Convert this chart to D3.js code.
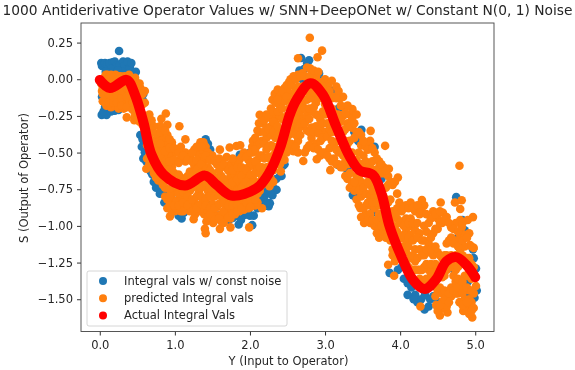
<!DOCTYPE html>
<html lang="en">
<head>
<meta charset="UTF-8">
<title>Antiderivative Operator Values</title>
<script src="https://d3js.org/d3.v7.min.js"></script>
<style>
  html, body { margin: 0; background: #fff; }
  svg { display: block; filter: blur(0.45px); }
  text { font-family: "DejaVu Sans", sans-serif; fill: #262626; }
</style>
</head>
<body>
<svg width="575" height="370"></svg>
<script>
const titleText = "1000 Antiderivative Operator Values w/ SNN+DeepONet w/ Constant N(0, 1) Noise";
const xLabel = "Y (Input to Operator)";
const yLabel = "S (Output of Operator)";
const xTicks = [0, 1, 2, 3, 4, 5];
const yTicks = [0.25, 0, -0.25, -0.5, -0.75, -1, -1.25, -1.5];
const legendLabels = ["Integral vals w/ const noise", "predicted Integral vals", "Actual Integral Vals"];
const colors = ["#1f77b4", "#ff7f0e", "#ff0000"];

// noisy integral values (most are hidden under the orange)
const noisyPoints = [
  [.02,.11],[.03,.09],[.05,.1],[.07,.11],[.1,.1],[.13,.11],[.17,.115],[.2,.12],[.22,.09],[.257,.193],[.27,.1],[.31,.12],[.33,.09],[.37,.12],[.4,.08],[.42,.11],[.38,.06],[.43,.05],[.3,.05],
  [.15,.07],[.08,.05],[.24,.06],[.46,.02],[.48,.05],[.5,-.03],
  [.026,-.243],[.09,-.243],[.05,-.22],[.2,-.215],[.25,-.21],[.05,-.14],[.12,-.18],[.17,-.17],[.58,-.1],[.57,-.14],[.07,-.19],[.15,-.22],[.03,-.12],
  [.54,-.38],[.56,-.46],[.58,-.54],[.65,-.6],[.7,-.65],[.78,-.72],[.9,-.76],[.86,-.84],[.87,-.78],[.6,-.5],[.72,-.7],[.83,-.75],[.95,-.8],[.57,-.41],[.62,-.56],[.68,-.63],[.75,-.74],[.8,-.78],[.92,-.83],
  [1.09,-.95],[1.05,-.93],[1.33,-.87],[1.41,-.41],[1.47,-.48],[1.35,-.49],[1.64,-.97],[1.77,-.945],[1.85,-.99],[1.93,-.925],[2.03,-.995],[2.05,-.93],
  [1.2,-.88],[1.45,-.86],[1.58,-.93],[1.7,-.9],[1.72,-.96],[1.97,-.9],[1.12,-.91],[1.38,-.9],[1.53,-.96],[1.82,-.93],[1.88,-.96],[2.0,-.93],[2.1,-.88],[1.44,-.44],[1.5,-.55],
  [2.17,-.84],[2.25,-.865],[2.19,-.8],[2.13,-.81],[2.3,-.79],[2.31,-.74],[2.4,-.66],[1.865,-.515],[2,-.5],[2.265,-.845],[2.354,-.754],[2.42,-.66],[2.44,-.59],[2.37,-.55],[2.22,-.84],[2.27,-.78],[2.35,-.68],[2.46,-.58],[2.2,-.76],
  [2.787,.13],[2.68,.145],[2.66,.06],[2.72,.07],[2.83,.05],[2.92,.04],[2.94,0],[2.7,0],[3.03,-.07],[2.76,.11],[2.86,.04],[2.88,.02],[2.97,-.03],[3.1,-.08],[3.18,-.2],
  [3.484,-.345],[3.39,-.36],[3.66,-.46],[3.173,-.584],[3.7,-.62],[3.37,-.79],[3.35,-.74],[3.63,-.91],[3.6,-.44],[3.3,-.62],[3.44,-.42],[3.75,-.68],[3.4,-.8],[3.23,-.5],
  [3.86,-1.32],[3.97,-1.3],[3.95,-1.22],[4.1,-1.39],[4.1,-1.47],[4.2,-1.47],[4.23,-1.52],[4.325,-1.57],[4.44,-1.48],[4.44,-1.41],[4.5,-1.52],[4.17,-1.22],[4.05,-1.36],[4.15,-1.42],[4.28,-1.5],[4.38,-1.55],[4.02,-1.28],[4.12,-1.32],[4.18,-1.5],[4.33,-1.47],[4.4,-1.5],
  [4.747,-.804],[4.83,-.96],[4.86,-1.03],[4.77,-1.08],[4.79,-1.15],[4.97,-1.16],[5.01,-1.29],[4.99,-1.49],[4.93,-1.47],[5,-1.35],[4.98,-1.22],[5.02,-1.44],[4.72,-1.3],[4.9,-1.38]
];

// predicted integral values: outliers and band edges
const predictedPoints = [
  [.03,-.08],[.02,-.03],[.06,.01],[.08,.03],[.1,.03],[.13,.02],[.17,.02],[.21,.03],[.28,.02],[.33,.02],[.39,.03],[.45,-.04],[.36,-.26],[.48,-.02],[.54,-.06],[.46,-.28],[.61,-.29],
  [.62,-.36],[.68,-.55],[.62,-.61],[.8,-.32],[.82,-.27],[.88,-.234],[.9,-.31],[.87,-.4],[.8,-.68],[.96,-.43],
  [.935,-.935],[1,-.9],[.95,-.87],[1.06,-.32],[1.14,-.41],[1.25,-.955],[1.27,-.92],[1.34,-.43],[1.41,-.46],[1.39,-.92],[1.42,-.97],[1.4,-1.02],[1.41,-1.05],
  [1.51,-.98],[1.52,-.92],[1.6,-.48],[1.6,-1.02],[1.67,-.95],[1.69,-.53],[1.73,-.465],[1.74,-1.01],[1.8,-.88],[1.82,-.455],[1.87,-.45],[1.99,-1.01],[2.07,-.86],[2.03,-.46],
  [2.13,-.243],[2.12,-.3],[2.16,-.88],[2.26,-.73],[2.3,-.14],[2.33,-.1],[2.37,-.07],[2.31,-.7],[2.41,-.628],
  [2.54,0],[2.64,.03],[2.64,.143],[2.71,-.557],[2.8,.075],[2.797,.283],[2.89,-.546],[2.9,.15],[2.96,.195],[3,0],[3.04,-.04],[3.07,-.62],[3.09,-.01],[3.15,-.05],[3.2,-.13],[3.26,-.19],
  [3.33,-.24],[3.364,-.204],[3.47,-.88],[3.52,-.98],[3.55,-.86],[3.6,-.98],[3.607,-.352],[3.72,-1.08],[3.8,-.454],[3.85,-.61],[3.84,-1.265],[3.92,-1.34],[3.97,-.67],
  [4.29,-.824],[4.54,-.84],[4.57,-.91],[4.73,-.84],[4.8,-.885],[4.82,-.825],[4.82,-1.01],[4.9,-.96],[4.97,-.94],[4.68,-1.01],[4.93,-1.13],
  [4.27,-1.55],[4.53,-1.61],[4.63,-1.59],[4.57,-1.56],[4.48,-1.54],[4.96,-1.625],[4.92,-1.57],[4.84,-1.58],[4.79,-1.52],[4.77,-1.46],[4.95,-1.52],[5.01,-1.41],[4.79,-.59]
];

// predicted values inside the band, read column by column as [x, ys]
const predictedColumns = [
  [.04,[0,-.06,-.1,-.15]],[.09,[-.02,-.08,-.13,-.18]],[.15,[.03,-.03,-.07,-.14,-.19]],[.2,[-.01,-.05,-.11,-.18]],[.25,[.02,-.06,-.09,-.15,-.2]],
  [.32,[-.02,-.05,-.11,-.17,-.2]],[.4,[-.01,-.08,-.15,-.19]],[.47,[.01,-.09,-.13,-.18,-.25]],[.53,[-.03,-.14,-.22,-.29]],[.6,[-.08,-.16,-.27,-.35]],
  [.66,[-.24,-.3,-.38,-.47,-.52,-.58]],[.72,[-.32,-.42,-.51,-.57,-.64]],[.78,[-.38,-.43,-.49,-.58,-.63,-.69]],[.84,[-.33,-.41,-.46,-.55,-.63,-.72]],[.9,[-.38,-.44,-.52,-.6,-.67,-.82,-.88]],
  [.96,[-.45,-.52,-.6,-.66,-.78,-.82,-.9]],[1.02,[-.5,-.56,-.68,-.75,-.83,-.88]],[1.08,[-.46,-.54,-.67,-.74,-.8,-.9]],[1.14,[-.5,-.56,-.68,-.72,-.82,-.88]],[1.2,[-.53,-.63,-.7,-.76,-.84,-.9]],
  [1.26,[-.48,-.59,-.68,-.73,-.84,-.88]],[1.32,[-.47,-.52,-.6,-.68,-.77,-.86,-.9]],[1.38,[-.43,-.49,-.56,-.66,-.72,-.83,-.88]],[1.44,[-.5,-.6,-.67,-.76,-.8,-.9,-.94]],[1.5,[-.52,-.64,-.7,-.77,-.85]],
  [1.56,[-.58,-.67,-.75,-.87,-.93]],[1.62,[-.56,-.66,-.72,-.8,-.92,-.97]],[1.68,[-.6,-.7,-.78,-.88,-.92]],[1.74,[-.58,-.66,-.75,-.82,-.9,-.95]],[1.8,[-.56,-.65,-.72,-.83,-.92]],
  [1.86,[-.55,-.62,-.7,-.76,-.84,-.9]],[1.92,[-.5,-.64,-.72,-.8,-.89]],[1.98,[-.55,-.6,-.67,-.76,-.88]],[2.04,[-.42,-.5,-.59,-.68,-.8,-.84]],[2.1,[-.35,-.45,-.55,-.62,-.72,-.78,-.84]],
  [2.16,[-.3,-.42,-.52,-.6,-.66,-.72]],[2.22,[-.24,-.33,-.4,-.48,-.6,-.66]],[2.28,[-.2,-.32,-.38,-.45,-.55,-.62,-.68]],[2.34,[-.16,-.26,-.3,-.4,-.5,-.58]],[2.4,[-.12,-.18,-.25,-.35,-.42,-.52,-.58]],
  [2.46,[-.06,-.15,-.28,-.34,-.44,-.55]],[2.52,[-.02,-.09,-.2,-.32,-.38,-.47]],[2.58,[.02,-.12,-.23,-.32,-.49]],[2.64,[-.05,-.1,-.2,-.25,-.35,-.42,-.5]],[2.7,[.04,-.05,-.14,-.18,-.27,-.32]],
  [2.76,[.08,-.08,-.14,-.25,-.35,-.47]],[2.82,[.03,-.06,-.13,-.22,-.33,-.4]],[2.88,[.02,-.16,-.24,-.32,-.44]],[2.94,[-.02,-.1,-.28,-.34,-.42,-.52]],[3,[-.08,-.17,-.24,-.36,-.5]],
  [3.06,[-.08,-.22,-.34,-.47,-.54]],[3.12,[-.12,-.23,-.32,-.44,-.54]],[3.18,[-.08,-.24,-.36,-.42,-.5,-.58]],[3.24,[-.12,-.25,-.36,-.52,-.6]],[3.3,[-.18,-.3,-.44,-.58,-.68]],
  [3.36,[-.27,-.33,-.5,-.57,-.72]],[3.42,[-.24,-.36,-.55,-.66,-.72,-.82]],[3.48,[-.38,-.45,-.58,-.7,-.8,-.94]],[3.54,[-.46,-.56,-.64,-.78,-.92]],[3.6,[-.42,-.6,-.72,-.8,-.86,-.92]],
  [3.66,[-.5,-.62,-.8,-.88,-1]],[3.72,[-.56,-.6,-.86,-.92,-1.02]],[3.78,[-.6,-.64,-.8,-.96,-1.02,-1.06]],[3.84,[-.66,-.72,-.84,-.9,-1,-1.06]],[3.9,[-.72,-.9,-1,-1.06,-1.16,-1.2]],
  [3.96,[-.78,-.88,-.95,-1.04,-1.15,-1.2]],[4.02,[-.9,-.97,-1.08,-1.14,-1.2]],[4.08,[-.86,-.95,-1.02,-1.1,-1.18,-1.26]],[4.14,[-.84,-.95,-1,-1.06,-1.22,-1.3]],[4.2,[-.9,-1.03,-1.16,-1.24,-1.3]],
  [4.26,[-.92,-1.05,-1.16,-1.3,-1.36]],[4.32,[-.86,-1,-1.1,-1.2,-1.28,-1.38]],[4.38,[-.98,-1.12,-1.18,-1.3,-1.36]],[4.44,[-.9,-1.05,-1.2,-1.28,-1.34]],[4.5,[-.95,-1.02,-1.18,-1.3,-1.44,-1.58]],
  [4.56,[-.98,-1.22,-1.28,-1.35,-1.46,-1.52]],[4.62,[-.94,-1.12,-1.2,-1.3,-1.5,-1.55]],[4.68,[-1.08,-1.2,-1.28,-1.42,-1.48]],[4.74,[-.98,-1.1,-1.2,-1.3,-1.38,-1.46]],[4.8,[-.96,-1.06,-1.16,-1.26,-1.42]],
  [4.86,[-1.06,-1.14,-1.22,-1.34,-1.5,-1.56]],[4.92,[-1.05,-1.22,-1.3,-1.44,-1.5,-1.6]],[4.98,[-1.15,-1.28,-1.35,-1.46,-1.56]],
  [.07,[-.04,-.11,-.16]],[.12,[0,-.05,-.1,-.16]],[.18,[.01,-.06,-.12,-.16]],[.23,[0,-.04,-.1,-.16]],[.29,[-.02,-.08,-.13,-.18]],
  [.36,[0,-.06,-.12,-.19]],[.44,[0,-.06,-.11,-.16,-.21]],[.5,[-.04,-.11,-.19,-.27]],[.57,[-.1,-.17,-.24,-.31]],[.63,[-.26,-.33,-.41,-.45,-.54]],
  [.69,[-.28,-.35,-.42,-.49,-.6]],[.75,[-.37,-.45,-.54,-.6,-.67]],[.81,[-.36,-.44,-.52,-.6,-.65]],[.87,[-.35,-.49,-.56,-.66,-.74,-.8]],[.93,[-.41,-.47,-.56,-.62,-.75,-.8,-.86]],
  [.99,[-.47,-.55,-.64,-.72,-.86]],[1.05,[-.5,-.57,-.65,-.78,-.86]],[1.11,[-.52,-.7,-.77,-.84,-.9]],[1.17,[-.55,-.66,-.74,-.8,-.86]],[1.23,[-.5,-.56,-.66,-.74,-.82,-.9]],
  [1.29,[-.46,-.55,-.62,-.7,-.8,-.88]],[1.35,[-.46,-.58,-.64,-.74,-.8,-.85]],[1.41,[-.52,-.62,-.7,-.82,-.86]],[1.47,[-.55,-.62,-.74,-.8,-.88,-.92]],[1.53,[-.56,-.68,-.74,-.8,-.88,-.96]],
  [1.59,[-.54,-.62,-.7,-.79,-.85,-.95]],[1.65,[-.58,-.68,-.74,-.84,-.9,-.98]],[1.71,[-.62,-.72,-.8,-.86,-.94]],[1.77,[-.54,-.62,-.7,-.78,-.86,-.92]],[1.83,[-.6,-.68,-.76,-.86,-.9]],
  [1.89,[-.53,-.6,-.66,-.74,-.82,-.88]],[1.95,[-.53,-.62,-.7,-.78,-.84]],[2.01,[-.5,-.57,-.65,-.72,-.82,-.87]],[2.07,[-.4,-.48,-.56,-.64,-.74,-.82]],[2.13,[-.36,-.44,-.52,-.6,-.7,-.76]],
  [2.19,[-.28,-.36,-.44,-.54,-.62,-.7]],[2.25,[-.26,-.34,-.46,-.53,-.6,-.68]],[2.31,[-.22,-.29,-.36,-.46,-.52,-.62]],[2.37,[-.14,-.22,-.32,-.38,-.46,-.54]],[2.43,[-.08,-.2,-.27,-.37,-.46,-.55]],
  [2.49,[-.04,-.12,-.25,-.36,-.42,-.5]],[2.55,[-.04,-.16,-.3,-.36,-.44]],[2.61,[0,-.08,-.16,-.27,-.38,-.46]],[2.67,[.02,-.08,-.16,-.22,-.3,-.38]],[2.73,[.02,-.08,-.2,-.3,-.5]],
  [2.79,[.02,-.1,-.2,-.27,-.36,-.45]],[2.85,[.06,-.09,-.19,-.36,-.47]],[2.91,[.05,-.05,-.13,-.25,-.37,-.48]],[2.97,[-.05,-.13,-.22,-.3,-.4,-.5]],[3.03,[-.1,-.2,-.3,-.39,-.52]],
  [3.09,[-.13,-.2,-.36,-.42,-.56]],[3.15,[-.13,-.28,-.36,-.48,-.58]],[3.21,[-.18,-.29,-.4,-.48,-.6]],[3.27,[-.23,-.34,-.42,-.56,-.66]],[3.33,[-.32,-.42,-.56,-.64,-.74]],
  [3.39,[-.3,-.4,-.58,-.7,-.76]],[3.45,[-.36,-.5,-.66,-.76,-.86]],[3.51,[-.42,-.52,-.6,-.74,-.88,-.94]],[3.57,[-.48,-.6,-.7,-.84,-.96]],[3.63,[-.47,-.56,-.76,-.84,-.96]],
  [3.69,[-.54,-.66,-.84,-.96,-1.05]],[3.75,[-.58,-.64,-.82,-.94,-1]],[3.81,[-.62,-.74,-.9,-1,-1.08]],[3.87,[-.7,-.82,-.96,-1.04,-1.1]],[3.93,[-.7,-.92,-1.02,-1.1,-1.24]],
  [3.99,[-.84,-.98,-1.08,-1.18]],[4.05,[-.88,-1,-1.06,-1.16,-1.24]],[4.11,[-.88,-.98,-1.08,-1.14,-1.28]],[4.17,[-.88,-.98,-1.1,-1.2,-1.3]],[4.23,[-.86,-.98,-1.08,-1.22,-1.3,-1.38]],
  [4.29,[-.9,-1.1,-1.2,-1.3,-1.4]],[4.35,[-.92,-1.04,-1.16,-1.26,-1.36]],[4.41,[-.95,-1.08,-1.16,-1.26,-1.32]],[4.47,[-.92,-1.02,-1.14,-1.26,-1.36,-1.48]],[4.53,[-.9,-.98,-1.2,-1.3,-1.42,-1.54]],
  [4.59,[-.96,-1.2,-1.34,-1.44,-1.5]],[4.65,[-.98,-1.1,-1.22,-1.46,-1.52]],[4.71,[-1.02,-1.12,-1.26,-1.34,-1.44]],[4.77,[-1.04,-1.14,-1.28,-1.36,-1.42]],[4.83,[-.98,-1.1,-1.2,-1.38,-1.46,-1.54]],
  [4.89,[-1.08,-1.22,-1.34,-1.42,-1.52]],[4.95,[-1.14,-1.26,-1.36,-1.44,-1.58]]
];

// actual integral curve
const actualX = [0,.137,.36,.47,.58,.69,.85,1.134,1.4,1.555,1.755,2.09,2.265,2.4,2.53,2.62,2.806,2.973,3.15,3.328,3.46,3.638,3.75,3.86,4.016,4.17,4.326,4.48,4.614,4.747,4.88,5.0];
const actualY = [-.005,-.06,-.005,-.107,-.29,-.515,-.65,-.725,-.657,-.72,-.793,-.743,-.63,-.47,-.243,-.141,-.027,-.107,-.323,-.527,-.622,-.652,-.777,-1.004,-1.208,-1.367,-1.43,-1.364,-1.242,-1.213,-1.265,-1.35];

const margin = { left: 81, right: 494, top: 23, bottom: 331.5 };
const svg = d3.select("svg");
const x = d3.scaleLinear().domain([-0.25, 5.25]).range([margin.left, margin.right]);
const y = d3.scaleLinear().domain([0.3835, -1.72]).range([margin.top, margin.bottom]);

const allPredicted = predictedPoints.concat(predictedColumns.flatMap(c => c[1].map(v => [c[0], v])));

svg.append("g").selectAll("circle").data(noisyPoints).join("circle")
  .attr("cx", d => x(d[0])).attr("cy", d => y(d[1])).attr("r", 4.3).attr("fill", colors[0]);
svg.append("g").selectAll("circle").data(allPredicted).join("circle")
  .attr("cx", d => x(d[0])).attr("cy", d => y(d[1])).attr("r", 4.3).attr("fill", colors[1]);

const line = d3.line().x(d => x(d[0])).y(d => y(d[1])).curve(d3.curveCatmullRom);
svg.append("path")
  .attr("d", line(actualX.map((v, i) => [v, actualY[i]])))
  .attr("fill", "none").attr("stroke", colors[2]).attr("stroke-width", 10).attr("stroke-linecap", "round");

// axes
const xAxis = svg.append("g").attr("transform", `translate(0,${margin.bottom})`)
  .call(d3.axisBottom(x).tickValues(xTicks).tickSize(4).tickPadding(5.5));
const yAxis = svg.append("g").attr("transform", `translate(${margin.left},0)`)
  .call(d3.axisLeft(y).tickValues(yTicks).tickSize(4).tickPadding(4)
    .tickFormat(d => d3.format(".2f")(d).replace("-", "\u2212")));
[xAxis, yAxis].forEach(a => {
  a.selectAll("text").style("font-family", '"DejaVu Sans"').style("font-size", "11.5px").attr("fill", "#262626");
  a.selectAll("line").attr("stroke", "#333");
  a.select(".domain").remove();
});
svg.append("rect").attr("x", margin.left).attr("y", margin.top)
  .attr("width", margin.right - margin.left).attr("height", margin.bottom - margin.top)
  .attr("fill", "none").attr("stroke", "#444").attr("stroke-width", 0.9);

svg.append("text").attr("x", 287.5).attr("y", 15).attr("text-anchor", "middle")
  .style("font-size", "13.8px").text(titleText);
svg.append("text").attr("x", 288.5).attr("y", 365).attr("text-anchor", "middle")
  .style("font-size", "11.5px").text(xLabel);
svg.append("text").attr("transform", "translate(28,178) rotate(-90)").attr("text-anchor", "middle")
  .style("font-size", "11.5px").text(yLabel);

// legend
const legend = svg.append("g");
legend.append("rect").attr("x", 87).attr("y", 271).attr("width", 200).attr("height", 55).attr("rx", 2)
  .attr("fill", "#fff").attr("fill-opacity", 0.8).attr("stroke", "#ccc").attr("stroke-width", 0.8);
legendLabels.forEach((label, i) => {
  const ly = 281 + i * 17.2;
  legend.append("circle").attr("cx", 103).attr("cy", ly).attr("r", 4).attr("fill", colors[i]);
  legend.append("text").attr("x", 124).attr("y", ly + 3.5).style("font-size", "11.5px").text(label);
});
</script>
</body>
</html>
